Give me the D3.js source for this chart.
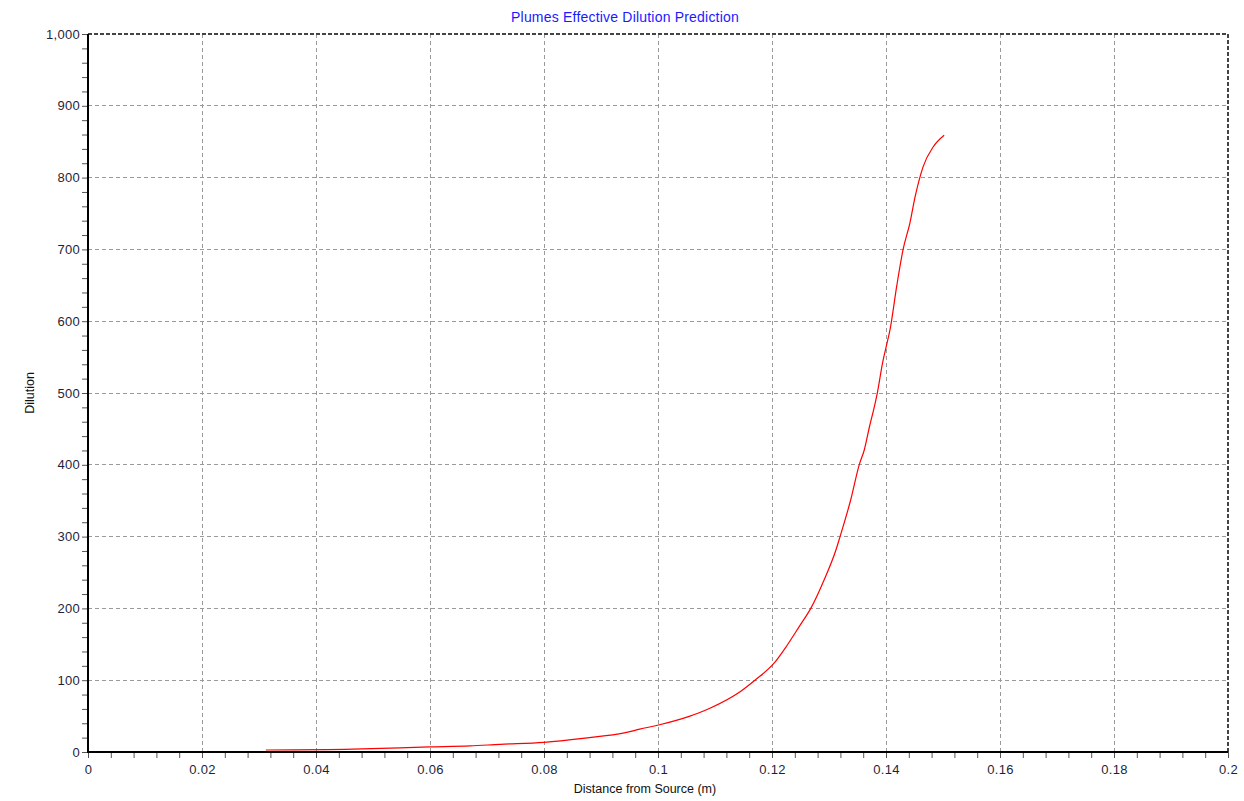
<!DOCTYPE html>
<html>
<head>
<meta charset="utf-8">
<script src="https://cdn.jsdelivr.net/npm/d3@7"></script>
<style>
  html, body { margin: 0; padding: 0; background: #fff; }
  svg { display: block; font-family: "Liberation Sans", Arial, sans-serif; }
</style>
</head>
<body>
<svg id="chart" width="1244" height="801"></svg>
<script>
const title = "Plumes Effective Dilution Prediction";
const xLabel = "Distance from Source (m)";
const yLabel = "Dilution";
const xTicks = [0, 0.02, 0.04, 0.06, 0.08, 0.1, 0.12, 0.14, 0.16, 0.18, 0.2];
const yTicks = [0, 100, 200, 300, 400, 500, 600, 700, 800, 900, 1000];

const distance = [0.0312, 0.0465, 0.06, 0.067, 0.0723, 0.08, 0.0868, 0.0945, 0.0968, 0.1001,
  0.1056, 0.107, 0.1091, 0.1144, 0.117, 0.1204, 0.1226, 0.1248, 0.1268, 0.1291, 0.1312,
  0.1319, 0.1338, 0.1353, 0.1362, 0.1371, 0.1379, 0.1385, 0.1394, 0.1402, 0.1407,
  0.1419, 0.143, 0.1442, 0.1451, 0.1465, 0.1483, 0.1502];
const dilution = [2.8, 4, 7, 8.4, 10.7, 13.5, 19, 27.3, 31.8, 37.6,
  50, 54, 61, 84, 100, 124, 148, 175, 200, 239, 281,
  299, 351, 400, 421, 453, 479, 501, 542, 570, 588,
  650, 700, 737, 773, 815, 843, 859];

const svg = d3.select("#chart");
const m = { left: 88, right: 1228, top: 34, bottom: 752 };

const x = d3.scaleLinear().domain([0, 0.2]).range([m.left, m.right]);
const y = d3.scaleLinear().domain([0, 1000]).range([m.bottom, m.top]);

// grid
const grid = svg.append("g");
xTicks.slice(1, -1).forEach(t => {
  grid.append("line").attr("x1", x(t)).attr("x2", x(t)).attr("y1", m.top).attr("y2", m.bottom)
    .attr("stroke", "#9a9a9a").attr("stroke-dasharray", "4,3").attr("shape-rendering", "crispEdges");
});
yTicks.slice(1, -1).forEach(t => {
  grid.append("line").attr("x1", m.left).attr("x2", m.right).attr("y1", y(t)).attr("y2", y(t))
    .attr("stroke", "#9a9a9a").attr("stroke-dasharray", "4,3").attr("shape-rendering", "crispEdges");
});
// top and right borders (dashed dark)
svg.append("line").attr("x1", m.left).attr("x2", m.right).attr("y1", m.top).attr("y2", m.top)
  .attr("stroke", "#444").attr("stroke-width", 1.5).attr("stroke-dasharray", "4,2").attr("shape-rendering", "crispEdges");
svg.append("line").attr("x1", m.right).attr("x2", m.right).attr("y1", m.top).attr("y2", m.bottom)
  .attr("stroke", "#444").attr("stroke-width", 1.5).attr("stroke-dasharray", "4,2").attr("shape-rendering", "crispEdges");

// minor ticks
const yMinor = d3.range(0, 1001, 20);
const xMinor = d3.range(0, 51).map(i => i * 0.004);

const yAxis = d3.axisLeft(y).tickValues(yMinor).tickSize(6)
  .tickFormat(d => yTicks.includes(d) ? d3.format(",")(d) : "");
const yg = svg.append("g").attr("transform", `translate(${m.left},0)`).call(yAxis);
yg.select(".domain").remove();
yg.selectAll(".tick line").attr("stroke", "#555");
yg.selectAll(".tick text").attr("font-size", 13).attr("letter-spacing", 0.3).attr("fill", "#1f1f3a")
  .attr("font-family", "Liberation Sans, Arial, sans-serif").attr("x", -8);

const xAxis = d3.axisBottom(x).tickValues(xMinor).tickSize(6)
  .tickFormat(d => {
    const r = Math.round(d * 1000) / 1000;
    return xTicks.some(t => Math.abs(t - r) < 1e-9) ? d3.format("")(+r.toFixed(2)) : "";
  });
const xg = svg.append("g").attr("transform", `translate(0,${m.bottom})`).call(xAxis);
xg.select(".domain").remove();
xg.selectAll(".tick line").attr("stroke", "#555");
xg.selectAll(".tick text").attr("font-size", 13).attr("letter-spacing", 0.3).attr("fill", "#1f1f3a")
  .attr("font-family", "Liberation Sans, Arial, sans-serif").attr("y", 13);

// axis lines (solid black)
svg.append("line").attr("x1", m.left).attr("x2", m.left).attr("y1", m.top).attr("y2", m.bottom + 1)
  .attr("stroke", "#000").attr("stroke-width", 2);
svg.append("line").attr("x1", m.left).attr("x2", m.right).attr("y1", m.bottom).attr("y2", m.bottom)
  .attr("stroke", "#000").attr("stroke-width", 2);

// data line
const pts = distance.map((d, i) => [d, dilution[i]]);
const line = d3.line().x(d => x(d[0])).y(d => y(d[1])).curve(d3.curveMonotoneX);
svg.append("path").datum(pts).attr("d", line).attr("fill", "none")
  .attr("stroke", "#ff0000").attr("stroke-width", 1.2);

// title & labels
svg.append("text").attr("x", 625).attr("y", 22).attr("text-anchor", "middle")
  .attr("font-size", 14).attr("letter-spacing", 0.2).attr("fill", "#1a1aff").text(title);
svg.append("text").attr("x", 645).attr("y", 793).attr("text-anchor", "middle")
  .attr("font-size", 12.5).attr("fill", "#111").text(xLabel);
svg.append("text").attr("transform", "translate(34,393) rotate(-90)").attr("text-anchor", "middle")
  .attr("font-size", 12.5).attr("fill", "#111").text(yLabel);
</script>
</body>
</html>
